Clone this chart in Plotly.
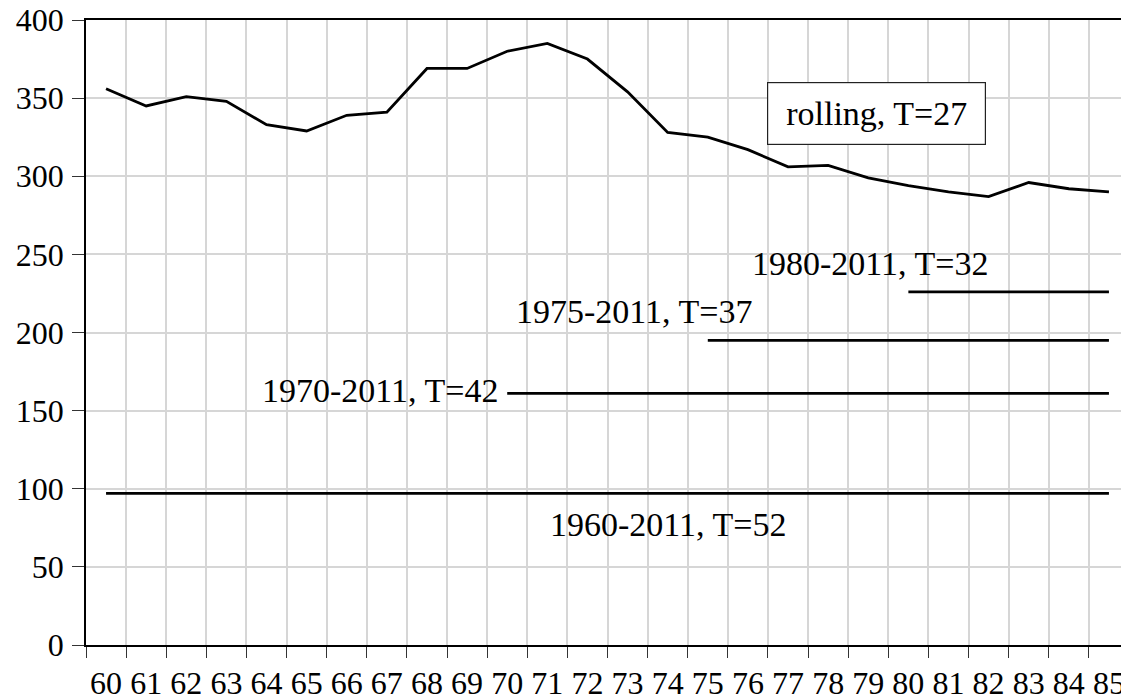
import plotly.graph_objects as go

years = [str(y) for y in range(60, 86)]
rolling = [356, 345, 351, 348, 333, 329, 339, 341, 369, 369, 380, 385, 375,
           354, 328, 325, 317, 306, 307, 299, 294, 290, 287, 296, 292, 290]

# fixed-sample estimates, drawn from their first year to the end of the axis
fixed_labels = ["1960-2011, T=52", "1970-2011, T=42", "1975-2011, T=37", "1980-2011, T=32"]
fixed_start = ["60", "70", "75", "80"]
fixed_values = [97, 161, 195, 226]

FONT = "Liberation Serif"

fig = go.Figure()
fig.add_trace(go.Scatter(x=years, y=rolling, mode="lines",
                         line=dict(color="black", width=2.8)))
for start, val in zip(fixed_start, fixed_values):
    xs = years[years.index(start):]
    fig.add_trace(go.Scatter(x=xs, y=[val] * len(xs), mode="lines",
                             line=dict(color="black", width=2.8)))

# label placement: (x in category index, y in data units)
label_pos = [(14.02, 77), (6.82, 163), (13.15, 213.5), (19.05, 244)]
for text, (ax, ay) in zip(fixed_labels, label_pos):
    fig.add_annotation(x=ax, y=ay, text=text, showarrow=False,
                       font=dict(family=FONT, size=34, color="black"),
                       xanchor="center", yanchor="middle")

fig.add_annotation(x=19.21, y=340, text="rolling, T=27", showarrow=False,
                   font=dict(family=FONT, size=34, color="black"),
                   bordercolor="#222", borderwidth=1.2, borderpad=0,
                   width=217, height=61, bgcolor="white",
                   xanchor="center", yanchor="middle")

# page body adds an 8px offset, so the margins are trimmed to compensate
fig.update_layout(
    width=1121, height=690,
    margin=dict(l=78, r=0, t=12, b=53),
    plot_bgcolor="white", paper_bgcolor="white",
    showlegend=False,
    font=dict(family=FONT, size=32, color="black"),
)
fig.update_xaxes(
    type="category", categoryorder="array", categoryarray=years,
    range=[-0.5, 25.5], tickson="boundaries", tickangle=0, automargin=False,
    showgrid=True, gridcolor="#d6d6d6", gridwidth=1.8,
    showline=True, linecolor="black", linewidth=1.5, mirror=True,
    ticks="outside", ticklen=11, tickcolor="#333", tickwidth=1.3,
    tickfont=dict(family=FONT, size=32, color="black"), ticklabelstandoff=9,
    ticklabeloverflow="allow", zeroline=False,
)
fig.update_yaxes(
    range=[0, 400], dtick=50, tick0=0, automargin=False,
    showgrid=True, gridcolor="#d6d6d6", gridwidth=1.8,
    showline=True, linecolor="black", linewidth=1.5,
    ticks="outside", ticklen=12, tickcolor="#333", tickwidth=1.3,
    tickfont=dict(family=FONT, size=32, color="black"), ticklabelstandoff=2,
    ticklabeloverflow="allow", zeroline=False,
)

fig.write_html("out.html")
